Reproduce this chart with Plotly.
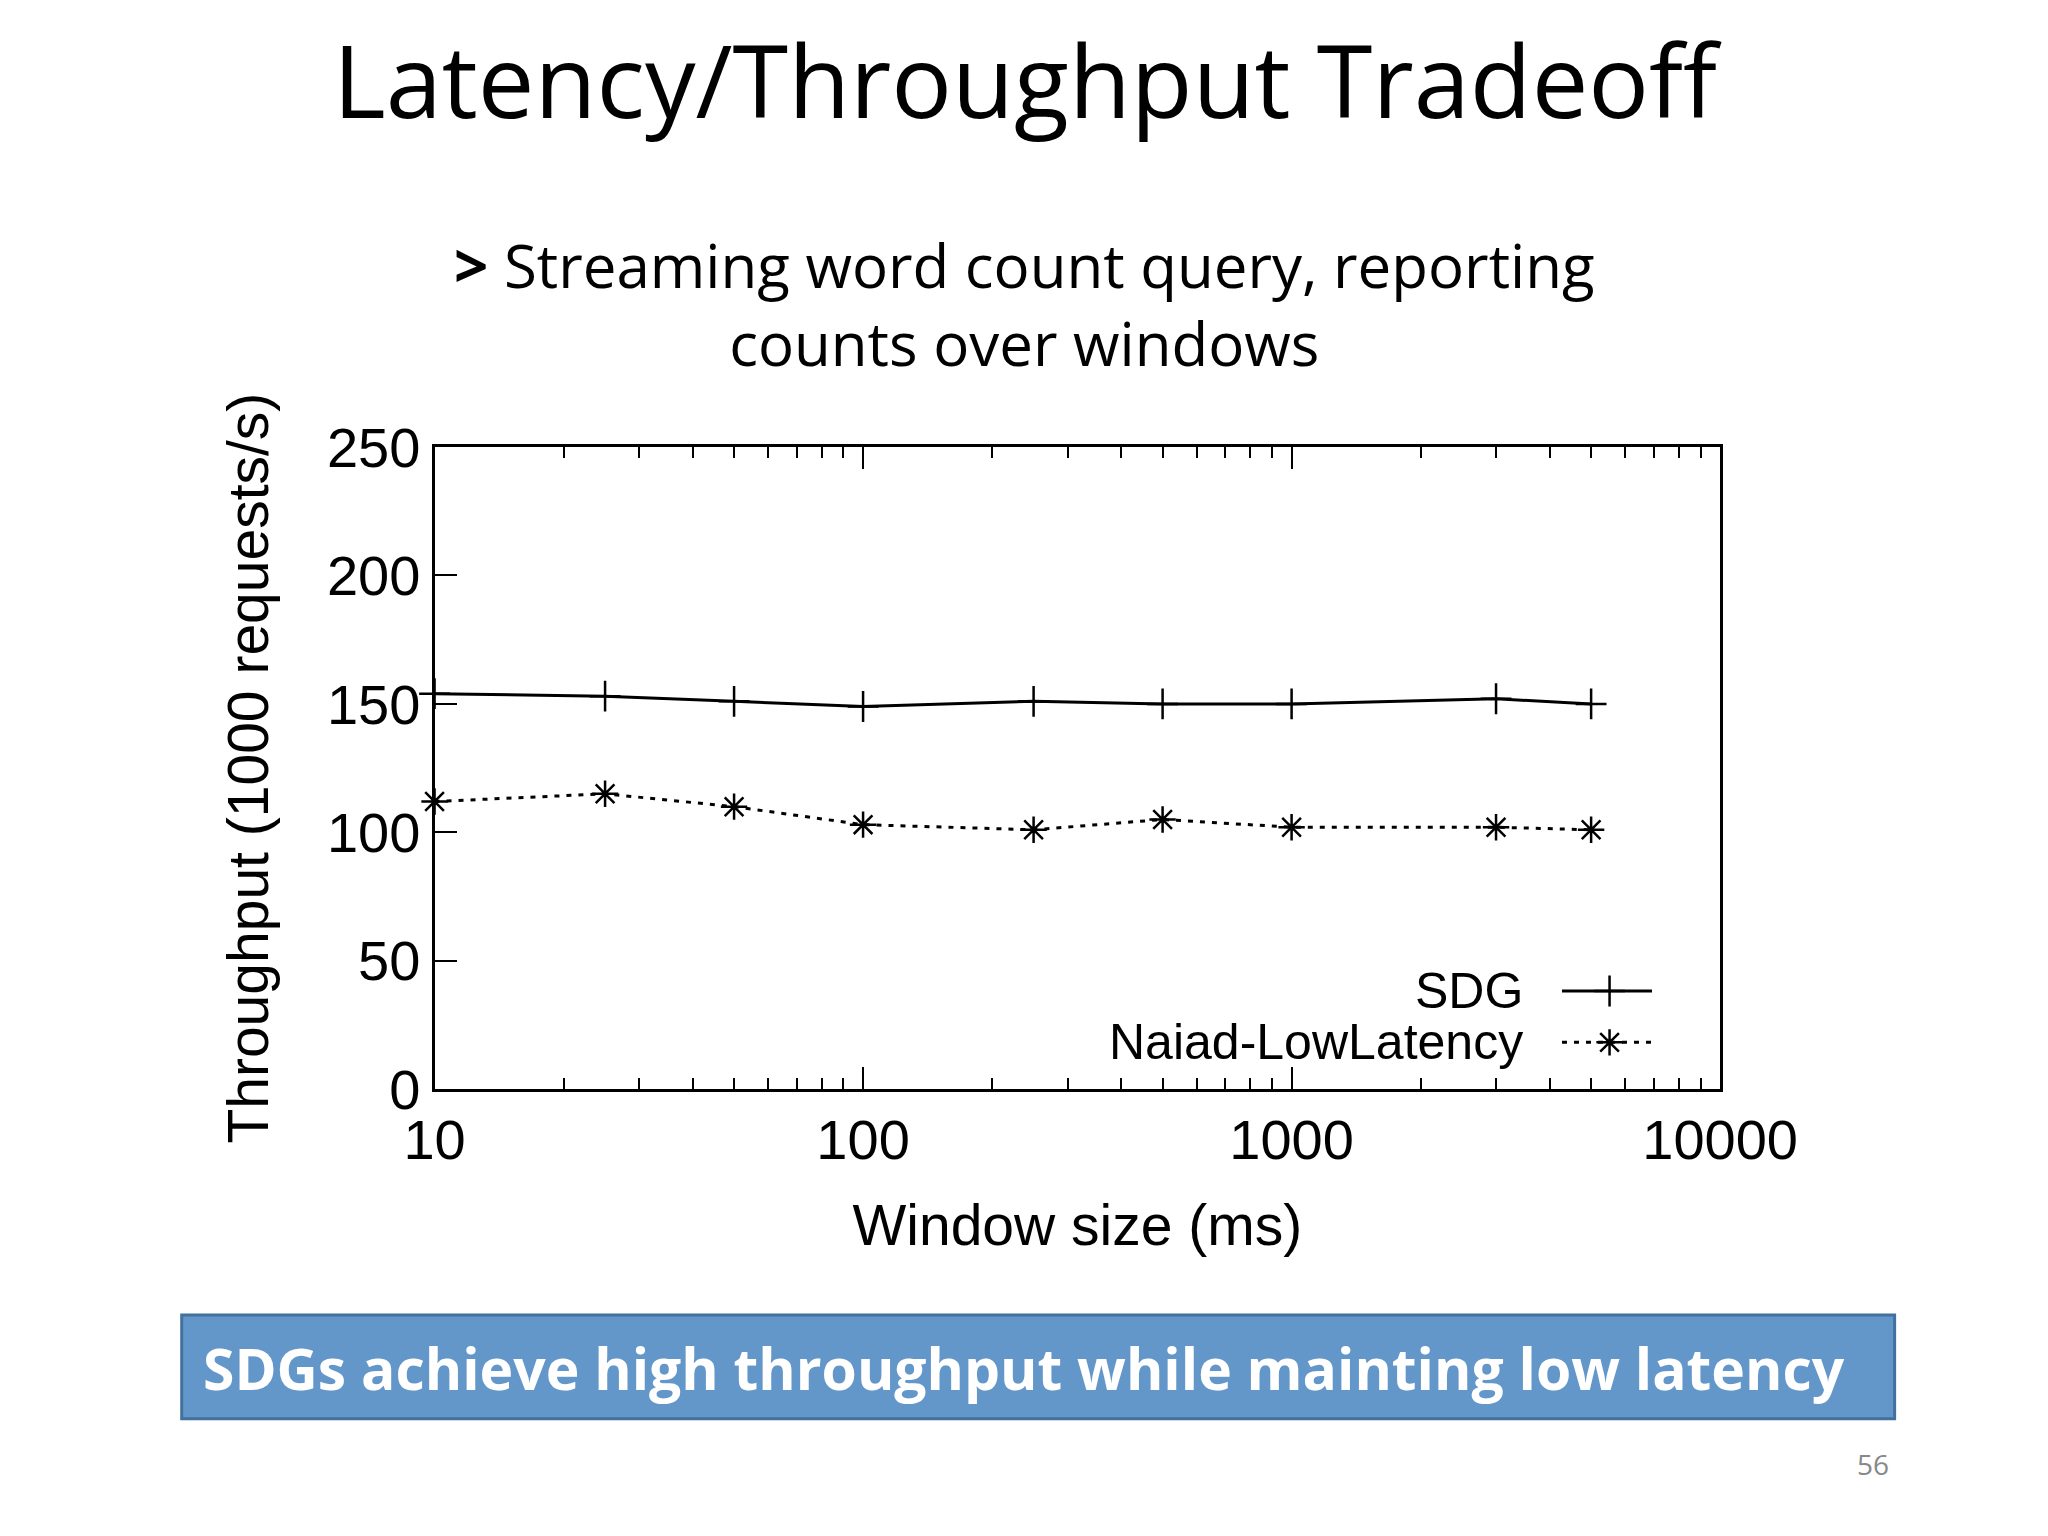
import plotly.graph_objects as go

window_ms = [10, 25, 50, 100, 250, 500, 1000, 3000, 5000]
sdg = [154, 153, 151, 149, 151, 150, 150, 152, 150]
naiad = [112, 115, 110, 103, 101, 105, 102, 102, 101]
series_names = ["SDG", "Naiad-LowLatency"]
x_ticks = [10, 100, 1000, 10000]
y_ticks = [0, 50, 100, 150, 200, 250]

F = "Liberation Sans, Arial, sans-serif"
T = "Open Sans, Noto Sans, sans-serif"
XD = [0.204, 0.867]
YD = [0.287, 0.723]
DASH = "5px,7px"

fig = go.Figure()
fig.add_trace(go.Scatter(x=window_ms, y=sdg, mode="lines+markers", name=series_names[0],
    line=dict(color="black", width=3),
    marker=dict(symbol="cross-thin", size=22, color="black", line=dict(color="black", width=2.5)),
    cliponaxis=False, showlegend=False))
fig.add_trace(go.Scatter(x=window_ms, y=naiad, mode="lines+markers", name=series_names[1],
    line=dict(color="black", width=3, dash=DASH),
    marker=dict(symbol="asterisk-open", size=22, color="black", line=dict(color="black", width=2.5)),
    cliponaxis=False, showlegend=False))

# legend samples on overlay axis
fig.add_trace(go.Scatter(x=[0.877, 0.947], y=[0.153, 0.153], mode="lines", xaxis="x2", yaxis="y2",
    line=dict(color="black", width=3), showlegend=False, hoverinfo="skip"))
fig.add_trace(go.Scatter(x=[0.914], y=[0.153], mode="markers", xaxis="x2", yaxis="y2",
    marker=dict(symbol="cross-thin", size=22, color="black", line=dict(color="black", width=2.5)),
    showlegend=False, hoverinfo="skip"))
fig.add_trace(go.Scatter(x=[0.877, 0.947], y=[0.073, 0.073], mode="lines", xaxis="x2", yaxis="y2",
    line=dict(color="black", width=3, dash=DASH), showlegend=False, hoverinfo="skip"))
fig.add_trace(go.Scatter(x=[0.914], y=[0.073], mode="markers", xaxis="x2", yaxis="y2",
    marker=dict(symbol="asterisk-open", size=22, color="black", line=dict(color="black", width=2.5)),
    showlegend=False, hoverinfo="skip"))

annotations = [
    dict(x=0.51, y=1.021, xref="paper", yref="paper", text="Latency/Throughput Tradeoff",
         showarrow=False, font=dict(family=T, size=101, color="black")),
    dict(x=0.508, y=0.876, xref="paper", yref="paper",
         text="<b>&gt;</b> Streaming word count query, reporting<br>counts over windows",
         showarrow=False, font=dict(family=T, size=60, color="black"), align="center"),
    dict(x=0.508, y=0.070, xref="paper", yref="paper",
         text="<b>SDGs achieve high throughput while mainting low latency</b>",
         showarrow=False, font=dict(family=T, size=57, color="white")),
    dict(x=0.955, y=0.018, xref="paper", yref="paper", text="56",
         showarrow=False, font=dict(family=T, size=28, color="#888888")),
]
for txt, yy in [(series_names[0], 0.153), (series_names[1], 0.073)]:
    annotations.append(dict(x=0.848, y=yy, xref="x2", yref="y2", text=txt, xanchor="right",
                            showarrow=False, font=dict(family=F, size=50, color="black")))

fig.update_layout(
    width=2048, height=1536, paper_bgcolor="white", plot_bgcolor="white",
    margin=dict(l=0, r=0, t=0, b=0),
    xaxis=dict(type="log", range=[1, 4], domain=XD,
               tickvals=x_ticks, ticktext=[str(v) for v in x_ticks],
               ticks="inside", ticklen=22, tickwidth=2, tickcolor="black",
               minor=dict(ticks="inside", ticklen=11, tickwidth=2, tickcolor="black", dtick="D1"),
               showline=True, linecolor="black", linewidth=3, mirror="ticks",
               showgrid=False, zeroline=False,
               tickfont=dict(family=F, size=56, color="black"),
               title=dict(text="Window size (ms)", font=dict(family=F, size=57, color="black"), standoff=35)),
    yaxis=dict(range=[0, 250], domain=YD,
               tickvals=y_ticks, ticks="inside", ticklen=22, tickwidth=2, tickcolor="black",
               showline=True, linecolor="black", linewidth=3, mirror=True,
               showgrid=False, zeroline=False,
               tickfont=dict(family=F, size=56, color="black"),
               title=dict(text="Throughput (1000 requests/s)", font=dict(family=F, size=57, color="black"), standoff=40)),
    xaxis2=dict(range=[0, 1], domain=XD, anchor="y2", overlaying="x", visible=False),
    yaxis2=dict(range=[0, 1], domain=YD, anchor="x2", overlaying="y", visible=False),
    annotations=annotations,
    shapes=[dict(type="rect", xref="paper", yref="paper", x0=0.0736, x1=0.957,
                 y0=0.0633, y1=0.1337, fillcolor="#6497c9",
                 line=dict(color="#41719c", width=3), layer="below")],
)
fig.write_html("out.html")
